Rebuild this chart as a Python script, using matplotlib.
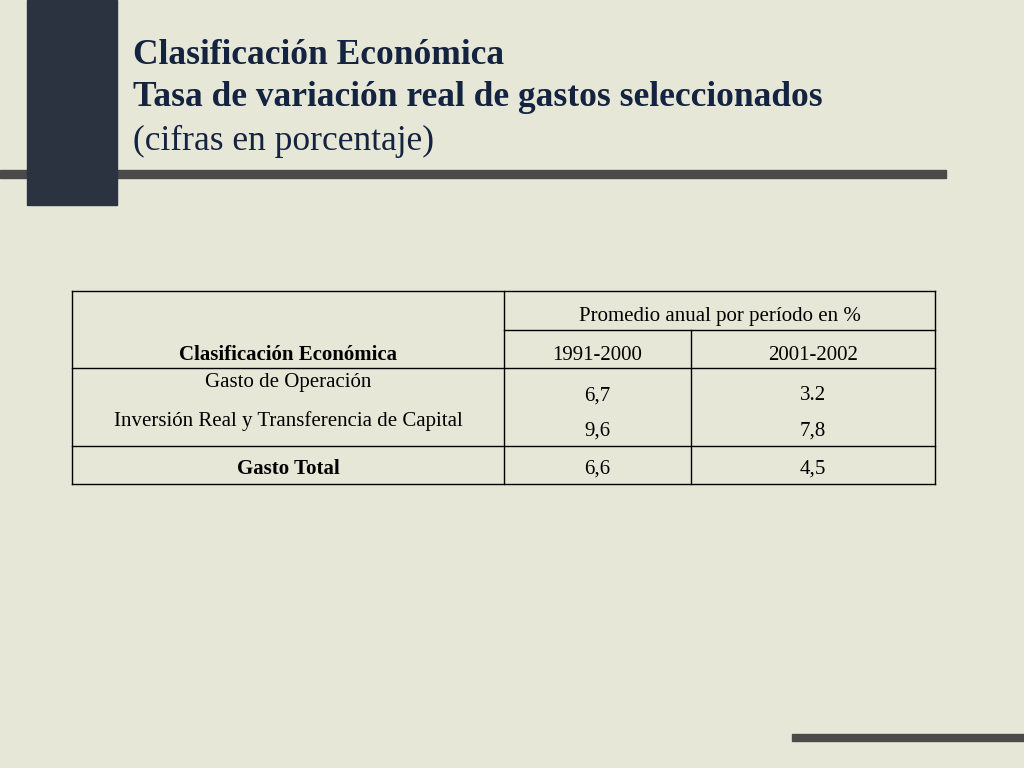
import matplotlib
matplotlib.use("Agg")
import matplotlib.pyplot as plt

title_lines = ["Clasificación Económica", "Tasa de variación real de gastos seleccionados", "(cifras en porcentaje)"]
header_group = "Promedio anual por período en %"
row_header = "Clasificación Económica"
periods = ["1991-2000", "2001-2002"]
categories = ["Gasto de Operación", "Inversión Real y Transferencia de Capital"]
vals_1991_2000 = ["6,7", "9,6"]
vals_2001_2002 = ["3.2", "7,8"]
total_label = "Gasto Total"
total_vals = ["6,6", "4,5"]

bg = "#e7e7d7"
navy = "#14233f"
fig = plt.figure(figsize=(10.24, 7.68), dpi=100, facecolor=bg)
ax = fig.add_axes([0, 0, 1, 1])
ax.set_xlim(0, 1024); ax.set_ylim(768, 0); ax.axis("off")
ax.set_facecolor(bg)

ax.add_patch(plt.Rectangle((0, 170), 946, 8, color="#4a4a4a", zorder=1))
ax.add_patch(plt.Rectangle((27, 0), 90, 205, color="#2c3340", zorder=2))
ax.add_patch(plt.Rectangle((792, 734), 232, 7, color="#4a4a4a", zorder=1))

serif = "Liberation Serif"
for i, t in enumerate(title_lines):
    ax.text(133, 55 + i * 43, t, fontsize=25.5, fontfamily=serif, color=navy,
            fontweight="bold" if i < 2 else "normal", va="center", ha="left")

x0, x1, x2, x3 = 72, 504, 691, 935
y0, y1, y2, y3, y4 = 291, 330, 368, 446, 484
for (xa, ya, xb, yb) in [(x0, y0, x3, y0), (x1, y1, x3, y1), (x0, y2, x3, y2), (x0, y3, x3, y3),
                         (x0, y4, x3, y4), (x0, y0, x0, y4), (x3, y0, x3, y4),
                         (x1, y0, x1, y4), (x2, y1, x2, y4)]:
    ax.plot([xa, xb], [ya, yb], color="black", lw=1.0)

tk = dict(fontfamily=serif, fontsize=15, color="black", va="center", ha="center")
ax.text((x1 + x3) / 2, 316, header_group, **tk)
ax.text((x0 + x1) / 2, 355, row_header, fontweight="bold", **tk)
ax.text((x1 + x2) / 2, 355, periods[0], **tk)
ax.text((x2 + x3) / 2, 355, periods[1], **tk)
cat_y = [383, 421]
val_y = [396, 431]
for i in range(len(categories)):
    ax.text((x0 + x1) / 2, cat_y[i], categories[i], **tk)
    ax.text((x1 + x2) / 2, val_y[i], vals_1991_2000[i], **tk)
    ax.text((x2 + x3) / 2, val_y[i], vals_2001_2002[i], **tk)
ax.text((x0 + x1) / 2, 469, total_label, fontweight="bold", **tk)
ax.text((x1 + x2) / 2, 469, total_vals[0], **tk)
ax.text((x2 + x3) / 2, 469, total_vals[1], **tk)

fig.savefig("out.png", dpi=100, facecolor=bg)
